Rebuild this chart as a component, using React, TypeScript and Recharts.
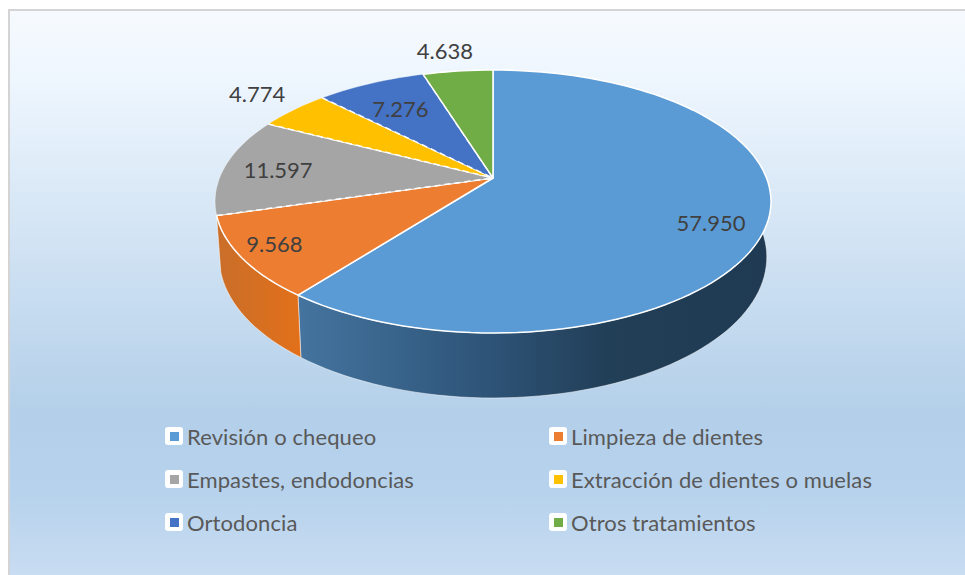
import React from 'react'
import { PieChart, Pie, Legend } from 'recharts'

const categories = [
    'Revisión o chequeo',
    'Limpieza de dientes',
    'Empastes, endodoncias',
    'Extracción de dientes o muelas',
    'Ortodoncia',
    'Otros tratamientos',
]
const values = [57950, 9568, 11597, 4774, 7276, 4638]
const valueLabels = ['57.950', '9.568', '11.597', '4.774', '7.276', '4.638']
const colors = ['#5B9BD5', '#ED7D31', '#A5A5A5', '#FFC000', '#4472C4', '#70AD47']
// only the two front slices show a side wall
const wallFills = ['url(#wallBlue)', 'url(#wallOrange)', null, null, null, null]
const dashed = [false, false, true, true, true, false]

// per slice label placement: radius factor, then a nudge in px
const labelPlacement = [
    { r: 0.8, dx: 1, dy: 10 },
    { r: 0.8, dx: -22, dy: 3 },
    { r: 0.8, dx: 0, dy: 1 },
    { r: 1.2, dx: -1, dy: -4 },
    { r: 0.8, dx: 8, dy: 8 },
    { r: 1.2, dx: -7, dy: -3 },
]

const data = categories.map((name, i) => ({ name, value: values[i], fill: colors[i] }))

const WIDTH = 965
const HEIGHT = 575
const CX = 493
const CY = 178
const RADIUS = 273.5
const TILT = 0.4654 // vertical squash of the disc
const PERSPECTIVE = 0.1787 // far side is drawn smaller
const DEPTH = 54

// rechart angle (deg, counter clockwise from 3 o'clock) -> point on the tilted disc
function project(cx: number, cy: number, radius: number, angle: number, r = 1) {
    const rad = (angle * Math.PI) / 180
    const u = r * Math.cos(rad)
    const v = r * Math.sin(rad)
    const w = 1 + PERSPECTIVE * v
    return { x: cx + (radius * u) / w, y: cy - (radius * TILT * v) / w }
}

function toBase(p: { x: number; y: number }, cx: number, cy: number) {
    return { x: cx + (p.x - cx) * 0.985, y: p.y + DEPTH + 0.071 * (p.y - cy) }
}

function arcPoints(props: any) {
    const { cx, cy, outerRadius, startAngle, endAngle } = props
    const steps = Math.max(4, Math.ceil(Math.abs(endAngle - startAngle) / 2))
    const pts = []
    for (let i = 0; i <= steps; i++) {
        pts.push(project(cx, cy, outerRadius, startAngle + ((endAngle - startAngle) * i) / steps))
    }
    return pts
}

const toPath = (pts: { x: number; y: number }[]) =>
    pts.map((p, i) => `${i === 0 ? 'M' : 'L'}${p.x.toFixed(1)},${p.y.toFixed(1)}`).join(' ')

function WallShape(props: any) {
    const fill = wallFills[categories.indexOf(props.name)]
    if (!fill) return null
    const top = arcPoints(props)
    const base = top.map((p) => toBase(p, props.cx, props.cy)).reverse()
    return <path d={toPath([...top, ...base]) + ' Z'} fill={fill} stroke="#ffffff" strokeOpacity={0.5} strokeWidth={1} />
}

function TopShape(props: any) {
    const idx = categories.indexOf(props.name)
    const arc = arcPoints(props)
    const center = { x: props.cx, y: props.cy }
    const d = toPath([center, ...arc]) + ' Z'
    if (!dashed[idx]) {
        return <path d={d} fill={colors[idx]} stroke="#ffffff" strokeWidth={1.5} strokeLinejoin="round" />
    }
    return (
        <g>
            <path d={d} fill={colors[idx]} stroke="#ffffff" strokeOpacity={0.4} strokeWidth={1} />
            <path
                d={toPath([arc[0], center, arc[arc.length - 1]])}
                fill="none"
                stroke="#ffffff"
                strokeWidth={1.5}
                strokeDasharray="6 4"
            />
        </g>
    )
}

function renderLabel(props: any) {
    const idx = categories.indexOf(props.name)
    const place = labelPlacement[idx]
    const p = project(props.cx, props.cy, props.outerRadius, props.midAngle, place.r)
    return (
        <text
            x={p.x + place.dx}
            y={p.y + place.dy}
            textAnchor="middle"
            dominantBaseline="central"
            fontFamily="Lato, sans-serif"
            fontSize={22}
            fill="#404040"
        >
            {valueLabels[idx]}
        </text>
    )
}

function LegendGrid() {
    return (
        <div>
            {categories.map((name, i) => (
                <div
                    key={name}
                    style={{
                        position: 'absolute',
                        left: i % 2 === 0 ? 165 : 549,
                        top: 423 + Math.floor(i / 2) * 43,
                        height: 26,
                        display: 'flex',
                        alignItems: 'center',
                        whiteSpace: 'nowrap',
                    }}
                >
                    <span
                        style={{
                            width: 18,
                            height: 18,
                            background: '#fff',
                            borderRadius: 3,
                            display: 'flex',
                            alignItems: 'center',
                            justifyContent: 'center',
                            marginRight: 4,
                        }}
                    >
                        <span style={{ width: 9, height: 9, background: colors[i] }} />
                    </span>
                    <span style={{ fontFamily: 'Lato, sans-serif', fontSize: 22, letterSpacing: 0.1, color: '#595959' }}>{name}</span>
                </div>
            ))}
        </div>
    )
}

export default function App() {
    return (
        <div style={{ position: 'absolute', left: 0, top: 0, width: WIDTH, height: HEIGHT, background: '#fff', overflow: 'hidden' }}>
            <div
                style={{
                    position: 'absolute',
                    left: 8,
                    top: 9,
                    right: 0,
                    bottom: 0,
                    borderLeft: '2px solid #d4d4d4',
                    borderTop: '2px solid #d4d4d4',
                    background:
                        'linear-gradient(180deg, #f6fafe 0%, #eef6fe 12%, #b3cfe9 72%, #b6d2ec 85%, #c8dcf2 100%)',
                }}
            />
            <div style={{ position: 'absolute', left: 0, top: 0 }}>
                <PieChart width={WIDTH} height={HEIGHT} margin={{ top: 0, right: 0, bottom: 0, left: 0 }}>
                    <defs>
                        <linearGradient id="wallBlue" gradientUnits="userSpaceOnUse" x1="297" y1="0" x2="771" y2="0">
                            <stop offset="0%" stopColor="#44749f" />
                            <stop offset="40%" stopColor="#2e5478" />
                            <stop offset="65%" stopColor="#223f58" />
                            <stop offset="100%" stopColor="#1f3a52" />
                        </linearGradient>
                        <linearGradient id="wallOrange" gradientUnits="userSpaceOnUse" x1="214" y1="0" x2="300" y2="0">
                            <stop offset="0%" stopColor="#c86e2a" />
                            <stop offset="100%" stopColor="#e2701a" />
                        </linearGradient>
                    </defs>
                    <Pie
                        data={data}
                        dataKey="value"
                        nameKey="name"
                        cx={CX}
                        cy={CY}
                        outerRadius={RADIUS}
                        startAngle={90}
                        endAngle={-270}
                        legendType="none"
                        shape={WallShape}
                        isAnimationActive={false}
                    />
                    <Pie
                        data={data}
                        dataKey="value"
                        nameKey="name"
                        cx={CX}
                        cy={CY}
                        outerRadius={RADIUS}
                        startAngle={90}
                        endAngle={-270}
                        shape={TopShape}
                        label={renderLabel}
                        labelLine={false}
                        isAnimationActive={false}
                    />
                    <Legend content={<LegendGrid />} wrapperStyle={{ left: 0, top: 0, width: WIDTH, height: 0 }} />
                </PieChart>
            </div>
        </div>
    )
}
